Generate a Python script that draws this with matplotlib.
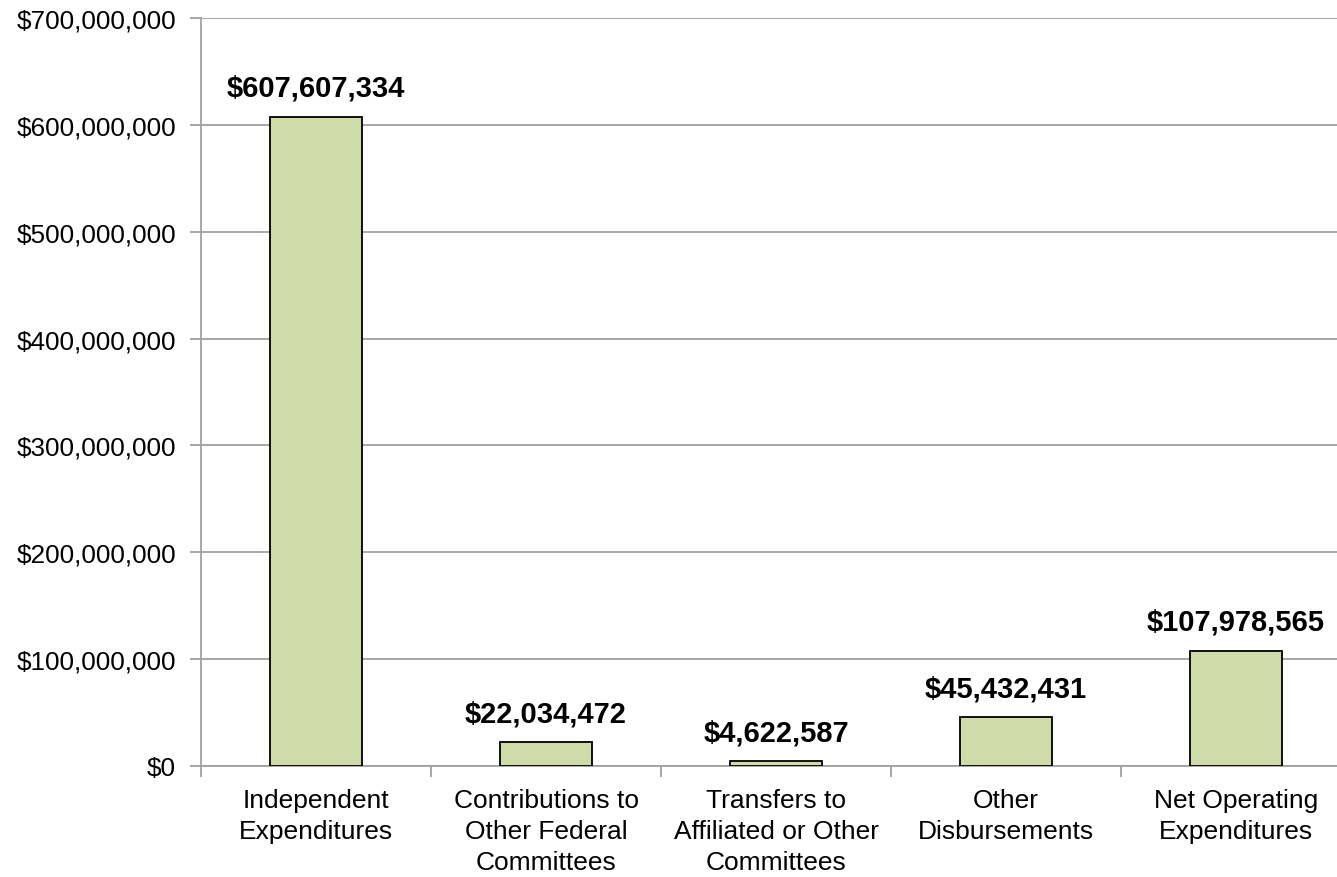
import matplotlib
matplotlib.use("Agg")
import matplotlib.pyplot as plt
from matplotlib.ticker import FuncFormatter, FixedLocator

categories = ["Independent\nExpenditures", "Contributions to\nOther Federal\nCommittees",
              "Transfers to\nAffiliated or Other\nCommittees", "Other\nDisbursements",
              "Net Operating\nExpenditures"]
values = [607607334, 22034472, 4622587, 45432431, 107978565]
yticks = [0, 100e6, 200e6, 300e6, 400e6, 500e6, 600e6, 700e6]

plt.rcParams['font.family'] = ['Liberation Sans', 'DejaVu Sans']

fig = plt.figure(figsize=(13.37, 8.78), dpi=100)
ax = fig.add_axes([201/1337, 111/878, 1150/1337, 748/878])

x = list(range(len(values)))
bars = ax.bar(x, values, width=0.4, color="#cfdcaa", edgecolor="black", linewidth=1.3, zorder=3)
ax.set_xlim(-0.5, len(values) - 0.5)
ax.set_ylim(0, 700e6)
ax.set_yticks(yticks)
ax.yaxis.set_major_formatter(FuncFormatter(lambda v, p: "${:,.0f}".format(v)))
ax.grid(axis="y", color="#a0a0a0", linewidth=1.3, zorder=0)

for s in ["top", "right"]:
    ax.spines[s].set_visible(False)
for s in ["left", "bottom"]:
    ax.spines[s].set_color("#a0a0a0")
    ax.spines[s].set_linewidth(1.3)

ax.set_xticks(x)
ax.set_xticklabels(categories, fontsize=19, linespacing=1.36)
ax.tick_params(axis="x", length=0, pad=16)
ax.xaxis.set_minor_locator(FixedLocator([i - 0.5 for i in range(len(values) + 1)]))
ax.tick_params(axis="x", which="minor", length=8, color="#a0a0a0", width=1.3)
ax.tick_params(axis="y", length=8, color="#a0a0a0", width=1.3, labelsize=18.8, pad=10)

for xi, v in zip(x, values):
    ax.annotate("${:,.0f}".format(v), (xi, v), xytext=(0, 15), textcoords="offset points",
                ha="center", va="baseline", fontsize=21, fontweight="bold")

fig.savefig("out.png", dpi=100)
